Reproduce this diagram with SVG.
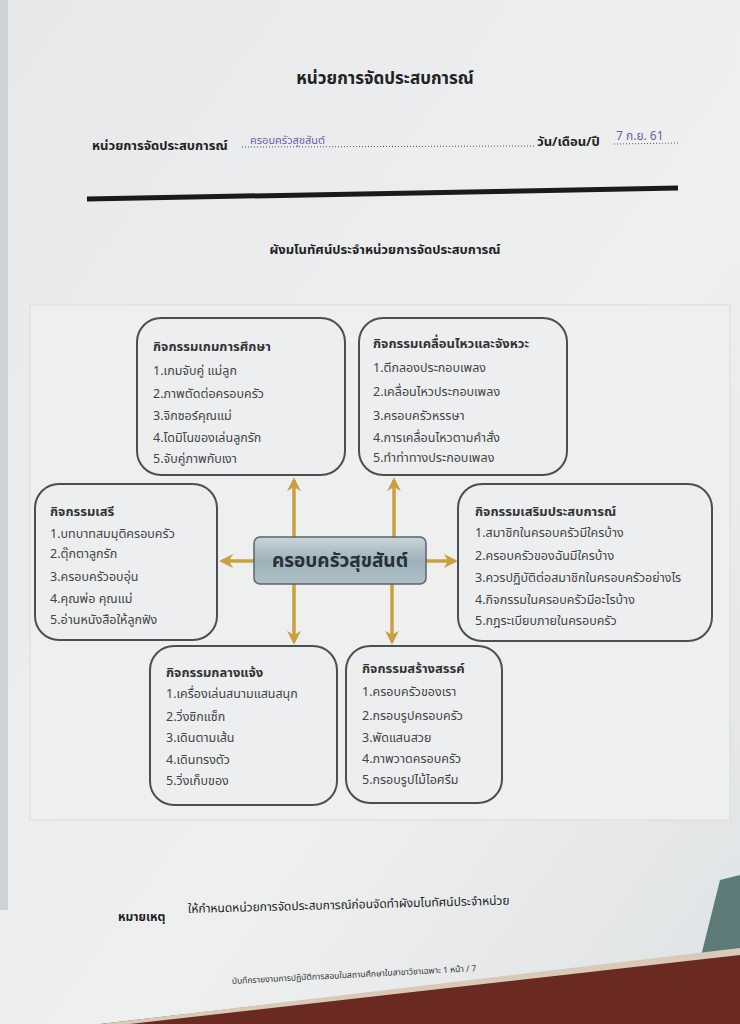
<svg xmlns="http://www.w3.org/2000/svg" width="740" height="1024" viewBox="0 0 740 1024">
<defs>
<style>
text{font-family:"Noto Sans Thai","Tahoma","Noto Sans","DejaVu Sans",sans-serif;fill:#3a3a3a}
.h{font-size:13px;font-weight:bold;fill:#333}
.i{font-size:12.5px;fill:#444}
.box{fill:#eceeef;stroke:#4a5052;stroke-width:2}
.arr{stroke:#c9a13e;stroke-width:3.5;fill:none;marker-end:url(#ah)}
</style>
<marker id="ah" viewBox="0 0 10 10" refX="8" refY="5" markerWidth="4" markerHeight="4" orient="auto">
<path d="M0,0 L10,5 L0,10 L3,5 Z" fill="#c9a13e"/>
</marker>
<linearGradient id="cg" x1="0" y1="0" x2="0" y2="1">
<stop offset="0" stop-color="#c9d6dc"/>
<stop offset="0.5" stop-color="#9fb1b9"/>
<stop offset="1" stop-color="#aebfc6"/>
</linearGradient>
<linearGradient id="pg" x1="0" y1="0" x2="1" y2="1">
<stop offset="0" stop-color="#e6e8ea"/>
<stop offset="0.6" stop-color="#eef0f0"/>
<stop offset="1" stop-color="#dfe2e4"/>
</linearGradient>
</defs>
<rect width="740" height="1024" fill="url(#pg)"/>
<rect x="0" y="0" width="8" height="910" fill="#cfd3d6"/>
<polygon points="720,880 740,875 740,955 700,960" fill="#5d7b78"/>
<polygon points="100,1024 740,950 740,1024" fill="#6a2a22"/>
<polygon points="100,1024 740,948 740,955 130,1024" fill="#d9c9b8"/>
<g id="header">
<text x="385" y="84" text-anchor="middle" style="font-size:17px;font-weight:bold;fill:#222">หน่วยการจัดประสบการณ์</text>
<text x="92" y="150" style="font-size:13px;font-weight:bold;fill:#222">หน่วยการจัดประสบการณ์</text>
<line x1="242" y1="147" x2="535" y2="146" stroke="#555" stroke-width="1" stroke-dasharray="1,2"/>
<text x="250" y="144" style="font-size:11px;fill:#6b5fa8">ครอบครัวสุขสันต์</text>
<text x="537" y="146" style="font-size:13px;font-weight:bold;fill:#222">วัน/เดือน/ปี</text>
<line x1="614" y1="144" x2="680" y2="143" stroke="#555" stroke-width="1" stroke-dasharray="1,2"/>
<text x="616" y="140" style="font-size:12px;fill:#6b5fa8">7 ก.ย. 61</text>
<line x1="87" y1="199" x2="678" y2="188" stroke="#1a1a1a" stroke-width="5"/>
<text x="385" y="254" text-anchor="middle" style="font-size:13px;font-weight:bold;fill:#222">ผังมโนทัศน์ประจำหน่วยการจัดประสบการณ์</text>
</g>
<rect x="30" y="305" width="700" height="515" fill="#eef0f0" stroke="#d8dbdd" stroke-width="1"/>
<g id="connectors">
<line class="arr" x1="294" y1="537" x2="294" y2="480"/>
<line class="arr" x1="394" y1="537" x2="394" y2="480"/>
<line class="arr" x1="254" y1="561" x2="222" y2="561"/>
<line class="arr" x1="426" y1="561" x2="455" y2="561"/>
<line class="arr" x1="294" y1="584" x2="294" y2="642"/>
<line class="arr" x1="392" y1="584" x2="392" y2="642"/>
</g>
<g id="center">
<rect x="254" y="537" width="172" height="47" rx="6" fill="url(#cg)" stroke="#5a6468" stroke-width="1.5"/>
<text x="340" y="567" text-anchor="middle" style="font-size:19px;font-weight:bold;fill:#263036">ครอบครัวสุขสันต์</text>
</g>
<g id="box-game">
<rect class="box" x="137" y="318" width="208" height="157" rx="24"/>
<text class="h" x="153" y="351">กิจกรรมเกมการศึกษา</text>
<text class="i" x="153" y="375">1.เกมจับคู่ แม่ลูก</text>
<text class="i" x="153" y="398">2.ภาพตัดต่อครอบครัว</text>
<text class="i" x="153" y="420">3.จิกซอร์คุณแม่</text>
<text class="i" x="153" y="442">4.โดมิโนของเล่นลูกรัก</text>
<text class="i" x="153" y="463">5.จับคู่ภาพกับเงา</text>
</g>
<g id="box-movement">
<rect class="box" x="359" y="318" width="208" height="157" rx="24"/>
<text class="h" x="373" y="348">กิจกรรมเคลื่อนไหวและจังหวะ</text>
<text class="i" x="373" y="372">1.ตีกลองประกอบเพลง</text>
<text class="i" x="373" y="396">2.เคลื่อนไหวประกอบเพลง</text>
<text class="i" x="373" y="420">3.ครอบครัวหรรษา</text>
<text class="i" x="373" y="442">4.การเคลื่อนไหวตามคำสั่ง</text>
<text class="i" x="373" y="462">5.ทำท่าทางประกอบเพลง</text>
</g>
<g id="box-free">
<rect class="box" x="35" y="484" width="182" height="156" rx="24"/>
<text class="h" x="50" y="516">กิจกรรมเสรี</text>
<text class="i" x="50" y="538">1.บทบาทสมมุติครอบครัว</text>
<text class="i" x="50" y="558">2.ตุ๊กตาลูกรัก</text>
<text class="i" x="50" y="581">3.ครอบครัวอบอุ่น</text>
<text class="i" x="50" y="603">4.คุณพ่อ คุณแม่</text>
<text class="i" x="50" y="624">5.อ่านหนังสือให้ลูกฟัง</text>
</g>
<g id="box-enrich">
<rect class="box" x="458" y="484" width="254" height="157" rx="24"/>
<text class="h" x="475" y="516">กิจกรรมเสริมประสบการณ์</text>
<text class="i" x="475" y="537">1.สมาชิกในครอบครัวมีใครบ้าง</text>
<text class="i" x="475" y="560">2.ครอบครัวของฉันมีใครบ้าง</text>
<text class="i" x="475" y="582">3.ควรปฏิบัติต่อสมาชิกในครอบครัวอย่างไร</text>
<text class="i" x="475" y="604">4.กิจกรรมในครอบครัวมีอะไรบ้าง</text>
<text class="i" x="475" y="625">5.กฎระเบียบภายในครอบครัว</text>
</g>
<g id="box-outdoor">
<rect class="box" x="150" y="646" width="187" height="159" rx="24"/>
<text class="h" x="166" y="677">กิจกรรมกลางแจ้ง</text>
<text class="i" x="166" y="698">1.เครื่องเล่นสนามแสนสนุก</text>
<text class="i" x="166" y="721">2.วิ่งซิกแซ็ก</text>
<text class="i" x="166" y="742">3.เดินตามเส้น</text>
<text class="i" x="166" y="764">4.เดินทรงตัว</text>
<text class="i" x="166" y="785">5.วิ่งเก็บของ</text>
</g>
<g id="box-creative">
<rect class="box" x="346" y="646" width="156" height="157" rx="24"/>
<text class="h" x="362" y="673">กิจกรรมสร้างสรรค์</text>
<text class="i" x="362" y="696">1.ครอบครัวของเรา</text>
<text class="i" x="362" y="720">2.กรอบรูปครอบครัว</text>
<text class="i" x="362" y="742">3.พัดแสนสวย</text>
<text class="i" x="362" y="763">4.ภาพวาดครอบครัว</text>
<text class="i" x="362" y="784">5.กรอบรูปไม้ไอศรีม</text>
</g>
<g id="footer">
<text x="118" y="921" style="font-size:12px;font-weight:bold;fill:#222">หมายเหตุ</text>
<text x="188" y="913" transform="rotate(-1.5 188 913)" style="font-size:12px;fill:#222">ให้กำหนดหน่วยการจัดประสบการณ์ก่อนจัดทำผังมโนทัศน์ประจำหน่วย</text>
<text x="232" y="984" transform="rotate(-3 232 984)" style="font-size:8.5px;fill:#333">บันทึกรายงานการปฏิบัติการสอนในสถานศึกษาในสาขาวิชาเฉพาะ 1   หน้า / 7</text>
</g>
</svg>
